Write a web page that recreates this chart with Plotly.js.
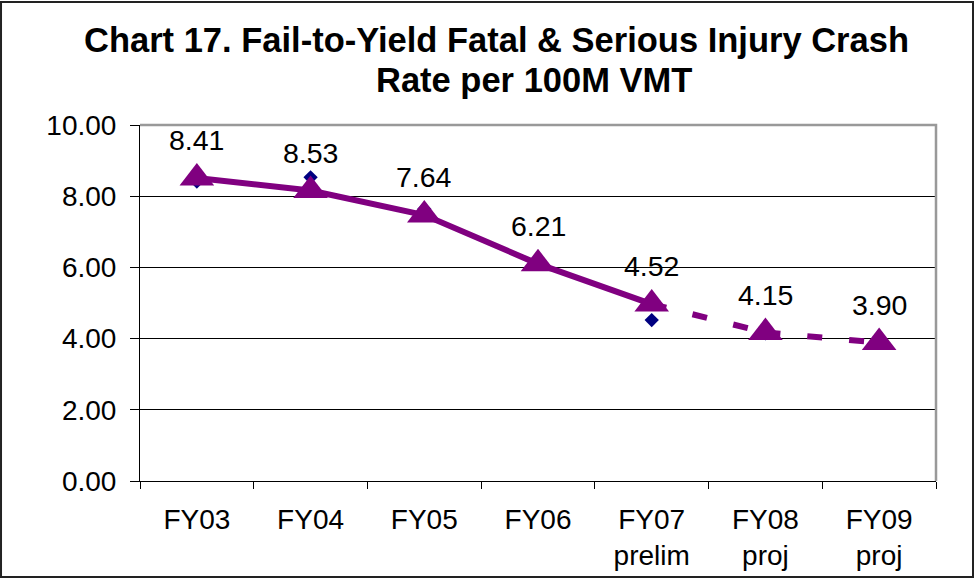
<!DOCTYPE html>
<html>
<head>
<meta charset="utf-8">
<script src="https://cdn.plot.ly/plotly-3.0.1.min.js"></script>
<style>
  html, body { margin: 0; padding: 0; background: #fff; }
  #chart { width: 974px; height: 579px; }
</style>
</head>
<body>
<div id="chart"></div>
<script>
// ---- data ----
const categories = ["FY03", "FY04", "FY05", "FY06", "FY07<br>prelim", "FY08<br>proj", "FY09<br>proj"];
const rateValues = [8.41, 8.53, 7.64, 6.21, 4.52, 4.15, 3.90];
const trendValues = [8.51, 8.16, 7.47, 6.10, 4.97, 4.17, 3.89];
const yTickVals = [0, 2, 4, 6, 8, 10];
const titleLine1 = "Chart 17. Fail-to-Yield Fatal & Serious Injury Crash";
const titleLine2 = "Rate per 100M VMT";

const FONT = '"Liberation Sans", Arial, sans-serif';
const PURPLE = '#800080';
const NAVY = '#000080';

const lastActual = 4; // index of FY07 prelim

const traces = [];
// diamonds (actual values)
traces.push({
  x: categories, y: rateValues, type: 'scatter', mode: 'markers',
  marker: { symbol: 'diamond', size: 11, color: NAVY },
  hoverinfo: 'skip', showlegend: false
});
// solid trend through FY07
traces.push({
  x: categories.slice(0, lastActual + 1), y: trendValues.slice(0, lastActual + 1),
  type: 'scatter', mode: 'lines',
  line: { color: PURPLE, width: 6 },
  hoverinfo: 'skip', showlegend: false
});
// dashed projected segments (pattern restarts each segment)
for (let i = lastActual; i < categories.length - 1; i++) {
  traces.push({
    x: categories.slice(i, i + 2), y: trendValues.slice(i, i + 2),
    type: 'scatter', mode: 'lines',
    line: { color: PURPLE, width: 6, dash: '15px,27px' },
    hoverinfo: 'skip', showlegend: false
  });
}
// triangle markers
traces.push({
  x: categories, y: trendValues, type: 'scatter', mode: 'markers',
  marker: { symbol: 'triangle-up', size: 30, color: PURPLE },
  hoverinfo: 'skip', showlegend: false
});

const annotations = categories.map((c, i) => ({
  x: c, y: trendValues[i], xref: 'x', yref: 'y',
  text: rateValues[i].toFixed(2), showarrow: false,
  yanchor: 'bottom', xanchor: 'center', yshift: 20,
  font: { family: FONT, size: 28.5, color: '#000' }
}));
annotations.push({
  x: 0.4479, y: 1.24, xref: 'paper', yref: 'paper', showarrow: false,
  xanchor: 'center', yanchor: 'middle',
  text: '<b>' + titleLine1.replace('&', '&amp;') + '</b>',
  font: { family: FONT, size: 34.5, color: '#000' }
});
annotations.push({
  x: 0.495, y: 1.126, xref: 'paper', yref: 'paper', showarrow: false,
  xanchor: 'center', yanchor: 'middle',
  text: '<b>' + titleLine2 + '</b>',
  font: { family: FONT, size: 34.5, color: '#000' }
});

const layout = {
  width: 974, height: 579,
  margin: { l: 140, r: 38, t: 125, b: 98 },
  paper_bgcolor: '#fff', plot_bgcolor: '#fff',
  font: { family: FONT, size: 28, color: '#000' },
  showlegend: false,
  xaxis: {
    type: 'category', range: [-0.5, 6.5],
    showgrid: false, zeroline: false,
    showline: true, linecolor: '#000', linewidth: 1,
    ticks: 'outside', tickson: 'boundaries', ticklen: 7, tickcolor: '#000', tickwidth: 1,
    ticklabelstandoff: 13,
    tickfont: { family: FONT, size: 28, color: '#000' },
    fixedrange: true
  },
  yaxis: {
    range: [0, 10], tickvals: yTickVals, tickformat: '.2f',
    showgrid: true, gridcolor: '#000', gridwidth: 1, zeroline: false,
    showline: true, linecolor: '#000', linewidth: 1,
    ticks: 'outside', ticklen: 9, tickcolor: '#000', tickwidth: 1,
    ticklabelstandoff: 8,
    tickfont: { family: FONT, size: 28, color: '#000' },
    fixedrange: true
  },
  shapes: [
    { type: 'path', xref: 'paper', yref: 'paper', path: 'M 0 1 L 1 1 L 1 0',
      line: { color: '#999', width: 2.5 } },
    { type: 'rect', xref: 'paper', yref: 'paper',
      x0: -0.1746, x1: 1.0465, y0: -0.2697, y1: 1.3455,
      line: { color: '#222', width: 2 } }
  ],
  annotations: annotations
};

Plotly.newPlot('chart', traces, layout, { staticPlot: true, displayModeBar: false });
</script>
</body>
</html>
